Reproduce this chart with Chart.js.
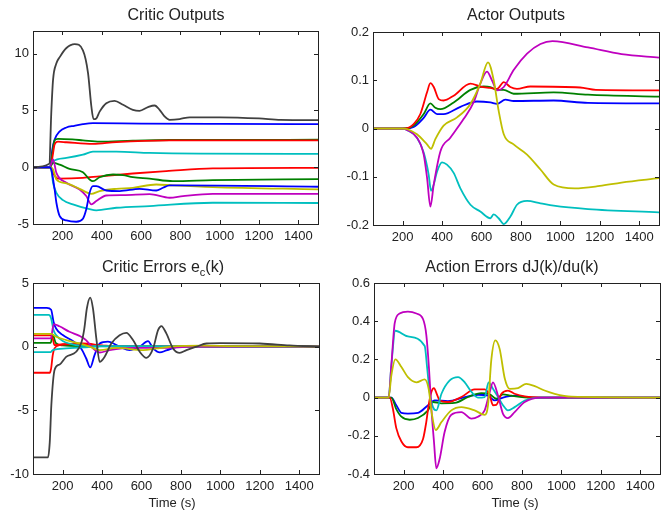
<!DOCTYPE html>
<html>
<head>
<meta charset="utf-8">
<script src="https://cdn.jsdelivr.net/npm/chart.js@4.4.1/dist/chart.umd.min.js"></script>
<style>
  body { margin: 0; width: 670px; height: 510px; background: #fff; position: relative; overflow: hidden;
         font-family: "Liberation Sans", Arial, sans-serif; color: #222; }
  canvas { position: absolute; }
  .ttl { position: absolute; font-size: 16px; line-height: 16px; text-align: center; white-space: nowrap; }
  .ttl sub { font-size: 11px; vertical-align: -4px; line-height: 0; }
  .xl { position: absolute; font-size: 13px; line-height: 13px; text-align: center; white-space: nowrap; }
</style>
</head>
<body>
<canvas id="c1" width="335" height="255" style="left:0;top:0"></canvas>
<canvas id="c2" width="335" height="255" style="left:335px;top:0"></canvas>
<canvas id="c3" width="335" height="255" style="left:0;top:255px"></canvas>
<canvas id="c4" width="335" height="255" style="left:335px;top:255px"></canvas>

<div class="ttl" style="left:76px;top:7px;width:200px">Critic Outputs</div>
<div class="ttl" style="left:416px;top:7px;width:200px">Actor Outputs</div>
<div class="ttl" style="left:63px;top:259px;width:200px">Critic Errors e<sub>c</sub>(k)</div>
<div class="ttl" style="left:412px;top:259px;width:200px">Action Errors dJ(k)/du(k)</div>
<div class="xl" style="left:122px;top:496px;width:100px">Time (s)</div>
<div class="xl" style="left:465px;top:496px;width:100px">Time (s)</div>

<script>
// colours (old matlab order)
const BLUE = "#0000ff", GREEN = "#008000", RED = "#ff0000", CYAN = "#00bfbf",
      MAGENTA = "#bf00bf", YELLOW = "#bfbf00", BLACK = "#404040";

const xTicks = [200, 400, 600, 800, 1000, 1200, 1400];

// Critic Outputs  [time, value]
const coYTicks = [-5, 0, 5, 10];
const coBlueHi = [[50,0],[135,0],[140,0.2],[148,1.55],[160,2.43],[186,3.16],[220,3.5],[260,3.65],[304,3.8],[355,3.89],[600,3.85],[1000,3.82],[1500,3.8]];
const coGreenHi = [[50,0],[138,0],[148,1.2],[160,2.37],[177,2.5],[250,2.45],[304,2.37],[389,2.25],[558,2.34],[745,2.4],[1500,2.42]];
const coRedHi = [[50,0],[140,0],[150,1.0],[160,2.0],[177,2.25],[220,2.2],[355,2.05],[474,2.22],[745,2.37],[1500,2.36]];
const coCyanHi = [[50,0],[135,0],[152,0.53],[220,0.82],[304,1.1],[355,1.37],[474,1.37],[643,1.26],[900,1.2],[1500,1.18]];
const coRedLo = [[50,0],[140,0],[155,-0.6],[177,-1.0],[304,-0.94],[389,-0.8],[558,-0.55],[728,-0.35],[965,-0.1],[1500,-0.05]];
const coGreenLo = [[50,0],[135,0],[152,0.38],[186,0.23],[236,-0.15],[304,-0.44],[338,-1.08],[355,-1.23],[389,-0.88],[457,-0.64],[508,-0.7],[558,-0.88],[643,-1.0],[762,-1.23],[965,-1.14],[1500,-1.05]];
const coCyanLo = [[50,0],[135,0],[143,-0.2],[152,-1.37],[169,-2.25],[203,-2.9],[253,-3.27],[338,-3.7],[372,-3.8],[474,-3.57],[643,-3.42],[965,-3.13],[1500,-3.15]];
const coMagenta = [[50,0],[135,0],[152,0.7],[169,-0.5],[220,-1.37],[287,-1.96],[321,-2.54],[347,-3.27],[372,-2.98],[423,-2.49],[508,-2.46],[643,-2.37],[745,-2.69],[813,-2.54],[965,-2.34],[1500,-2.35]];
const coYellow = [[50,0],[138,0],[152,-0.2],[169,-1.08],[220,-1.43],[287,-1.9],[347,-2.34],[389,-2.1],[474,-1.9],[558,-1.81],[677,-1.52],[762,-1.6],[965,-1.75],[1500,-1.95]];
const coBlueLo = [[50,0],[135,0],[143,-0.2],[160,-1.96],[169,-3.13],[186,-4.3],[220,-4.68],[270,-4.8],[304,-4.53],[321,-3.7],[338,-2.25],[355,-1.67],[372,-1.67],[423,-2.05],[491,-2.1],[592,-1.9],[677,-2.05],[711,-1.81],[745,-1.6],[800,-1.6],[1500,-1.72]];
const coBlack = [[50,0],[133,0.3],[143,4.8],[152,7.7],[169,9.15],[186,9.7],[220,10.5],[262,10.85],[304,10.3],[330,8.3],[347,5.35],[358,4.24],[372,4.3],[389,4.9],[423,5.64],[465,5.85],[508,5.5],[558,5.06],[592,4.97],[635,5.3],[669,5.44],[694,5.06],[720,4.47],[745,4.18],[796,4.24],[847,4.4],[1000,4.4],[1200,4.3],[1310,4.17],[1500,4.15]];

// Actor Outputs
const aoYTicks = [-0.2, -0.1, 0, 0.1, 0.2];
const aoBlue = [[50,0],[214,0],[256,0.003],[307,0.022],[341,0.039],[375,0.03],[408,0.03],[493,0.045],[577,0.056],[645,0.054],[679,0.051],[721,0.06],[763,0.057],[966,0.058],[1140,0.053],[1500,0.052]];
const aoGreen = [[50,0],[214,0],[256,0.006],[307,0.03],[341,0.052],[366,0.043],[392,0.04],[459,0.054],[544,0.08],[611,0.087],[645,0.086],[679,0.08],[713,0.08],[763,0.072],[966,0.075],[1140,0.07],[1500,0.066]];
const aoRed = [[50,0],[214,0],[256,0.009],[290,0.03],[324,0.075],[341,0.094],[358,0.086],[383,0.061],[408,0.058],[459,0.068],[544,0.093],[594,0.087],[645,0.084],[679,0.082],[713,0.096],[746,0.086],[780,0.082],[848,0.087],[1100,0.085],[1180,0.08],[1500,0.079]];
const aoCyan = [[50,0],[200,0],[222,-0.003],[273,-0.019],[307,-0.05],[332,-0.095],[344,-0.129],[358,-0.116],[375,-0.089],[400,-0.07],[425,-0.075],[459,-0.092],[493,-0.124],[544,-0.158],[594,-0.172],[645,-0.186],[662,-0.178],[687,-0.186],[713,-0.198],[746,-0.183],[780,-0.158],[831,-0.15],[899,-0.155],[966,-0.16],[1140,-0.167],[1500,-0.174]];
const aoMagenta = [[50,0],[200,0],[222,-0.003],[273,-0.019],[307,-0.054],[324,-0.102],[341,-0.162],[358,-0.116],[392,-0.047],[442,-0.019],[510,0.02],[560,0.054],[594,0.093],[628,0.118],[653,0.1],[679,0.079],[713,0.086],[763,0.121],[831,0.155],[899,0.175],[960,0.181],[1140,0.168],[1310,0.154],[1500,0.147]];
const aoYellow = [[50,0],[200,0],[222,-0.001],[273,-0.012],[324,-0.033],[344,-0.042],[366,-0.022],[408,0.006],[476,0.023],[544,0.051],[594,0.093],[633,0.137],[662,0.1],[687,0.037],[713,-0.012],[763,-0.033],[831,-0.054],[899,-0.085],[966,-0.116],[1073,-0.124],[1200,-0.119],[1310,-0.112],[1500,-0.103]];

// Critic Errors e_c(k)
const ceYTicks = [-10, -5, 0, 5];
const ceBlue = [[50,3.05],[120,3.05],[142,2.9],[154,1.96],[167,1.43],[201,0.91],[252,0.44],[294,-0.14],[320,-0.93],[340,-1.63],[362,-0.66],[388,0.25],[430,0.39],[489,0],[540,-0.27],[591,0],[633,0.44],[659,-0.14],[693,-0.45],[726,-0.3],[800,0.05],[1500,0]];
const ceGreen = [[50,0.3],[140,0.3],[150,0.95],[165,0.3],[200,0.1],[300,0.05],[1500,0]];
const ceRedHi = [[50,0.88],[140,0.88],[150,0.65],[159,0.12],[200,0.2],[300,0.2],[400,0.05],[1500,0]];
const ceRedLo = [[50,-2.05],[135,-2.05],[142,-1.7],[150,-0.66],[159,-0.14],[184,0.12],[303,0.25],[400,0.1],[500,0],[1500,0]];
const ceCyanHi = [[50,2.5],[130,2.5],[142,2.22],[154,1.3],[167,0.91],[201,0.44],[269,0.12],[350,0.05],[1500,0]];
const ceCyanLo = [[50,-0.43],[140,-0.43],[150,-0.27],[218,-0.14],[303,-0.06],[400,0.02],[1500,0]];
const ceMagenta = [[50,0.65],[140,0.65],[155,1.77],[184,1.6],[235,1.17],[286,0.85],[320,0.5],[354,-0.14],[388,-0.46],[438,-0.27],[557,-0.09],[726,-0.09],[850,0],[1500,0]];
const ceYellow = [[50,1.0],[142,1.0],[167,0.78],[218,0.52],[286,0.25],[337,0],[388,-0.27],[472,-0.1],[608,-0.27],[676,-0.14],[750,0],[900,0.08],[1050,0.05],[1500,0]];
const ceBlack = [[50,-8.7],[126,-8.7],[135,-7.5],[143,-4.6],[160,-1.8],[185,-1.4],[218,-0.8],[269,-0.4],[295,0.3],[310,1.4],[323,3.0],[340,3.85],[354,3.0],[371,0.65],[388,-1.19],[413,-0.8],[447,0.25],[489,0.9],[523,1.09],[557,0.52],[591,-0.4],[625,-0.88],[659,-0.14],[684,1.3],[701,1.62],[726,1.04],[760,-0.14],[794,-0.49],[828,-0.27],[879,0],[930,0.25],[1000,0.28],[1200,0.25],[1350,0.1],[1500,0]];

// Action Errors dJ(k)/du(k)
const aeYTicks = [-0.4, -0.2, 0, 0.2, 0.4, 0.6];
const aeBlue = [[50,0],[138,0],[163,-0.04],[189,-0.08],[222,-0.084],[273,-0.08],[324,-0.04],[358,-0.015],[425,-0.018],[510,0.003],[577,0.015],[628,0.01],[662,-0.015],[704,0],[763,0.01],[850,0],[1500,0]];
const aeGreen = [[50,0],[138,0],[163,-0.06],[189,-0.1],[231,-0.116],[273,-0.107],[324,-0.067],[349,-0.023],[392,-0.03],[459,-0.028],[527,0.003],[594,0.023],[637,0.017],[670,-0.006],[704,0.017],[746,0.01],[850,0],[1500,0]];
const aeRed = [[50,0],[130,0],[146,-0.06],[163,-0.16],[189,-0.23],[222,-0.26],[265,-0.26],[299,-0.215],[315,-0.128],[327,-0.04],[341,0.03],[354,0.05],[368,0.02],[383,-0.015],[425,-0.023],[493,0.003],[560,0.043],[611,0.043],[637,0.01],[653,-0.04],[670,-0.038],[696,0.02],[729,0.037],[763,0.02],[814,0.006],[900,0],[1500,0]];
const aeCyan = [[50,0],[124,0],[138,0.17],[158,0.35],[222,0.32],[307,0.27],[320,0.15],[332,0.03],[349,-0.05],[366,-0.067],[392,0.02],[434,0.09],[476,0.107],[510,0.08],[544,0.03],[577,0],[611,0.003],[631,0.08],[653,0.046],[679,0.003],[704,-0.04],[729,-0.067],[763,-0.05],[814,-0.015],[900,0],[1500,0]];
const aeMagenta = [[50,0],[124,0],[138,0.17],[155,0.39],[180,0.44],[222,0.45],[265,0.44],[299,0.41],[315,0.33],[329,0.15],[341,-0.06],[354,-0.23],[366,-0.37],[383,-0.32],[408,-0.18],[442,-0.09],[493,-0.076],[544,-0.11],[577,-0.1],[611,-0.067],[637,0.03],[653,0.08],[679,0.01],[704,-0.085],[729,-0.107],[763,-0.076],[814,-0.023],[899,0],[1500,0]];
const aeYellow = [[50,0],[124,0],[138,0.116],[158,0.2],[189,0.16],[222,0.107],[265,0.08],[307,0.095],[327,0.046],[344,-0.09],[363,-0.17],[392,-0.128],[442,-0.067],[493,-0.05],[560,-0.067],[611,-0.09],[628,-0.04],[645,0.2],[665,0.3],[687,0.255],[713,0.1],[738,0.046],[780,0.05],[822,0.072],[865,0.06],[915,0.037],[966,0.02],[1050,0.005],[1500,0]];

// box + inward ticks on all four sides, like matlab axes
const boxPlugin = {
  id: "box",
  afterDraw(chart) {
    const { ctx, chartArea: a, scales } = chart;
    ctx.save();
    ctx.strokeStyle = "#222";
    ctx.lineWidth = 1;
    ctx.strokeRect(Math.round(a.left) + 0.5, Math.round(a.top) + 0.5,
                   Math.round(a.right - a.left), Math.round(a.bottom - a.top));
    ctx.beginPath();
    scales.x.ticks.forEach(t => {
      const px = Math.round(scales.x.getPixelForValue(t.value)) + 0.5;
      ctx.moveTo(px, a.bottom); ctx.lineTo(px, a.bottom - 4);
      ctx.moveTo(px, a.top); ctx.lineTo(px, a.top + 4);
    });
    scales.y.ticks.forEach(t => {
      const py = Math.round(scales.y.getPixelForValue(t.value)) + 0.5;
      ctx.moveTo(a.left, py); ctx.lineTo(a.left + 4, py);
      ctx.moveTo(a.right, py); ctx.lineTo(a.right - 4, py);
    });
    ctx.stroke();
    ctx.restore();
  }
};

function makePanel(id, series, yMin, yMax, yTicks, area) {
  const W = 335, H = 255;
  return new Chart(document.getElementById(id), {
    type: "line",
    data: {
      datasets: series.map(s => ({
        data: s[0].map(p => ({ x: p[0], y: p[1] })),
        borderColor: s[1],
        borderWidth: 1.8,
        pointRadius: 0,
        fill: false,
        cubicInterpolationMode: "monotone"
      })).reverse()
    },
    options: {
      responsive: false,
      animation: false,
      events: [],
      layout: { padding: { top: area.top, right: W - area.right, left: 0, bottom: 0 } },
      plugins: { legend: { display: false }, tooltip: { enabled: false } },
      scales: {
        x: {
          type: "linear", min: 50, max: 1500,
          grid: { display: false, drawTicks: false },
          border: { display: false },
          afterBuildTicks: s => { s.ticks = xTicks.map(v => ({ value: v })); },
          afterFit: s => { s.height = H - area.bottom; },
          ticks: { color: "#222", padding: 5, maxRotation: 0, autoSkip: false,
                   font: { family: "'Liberation Sans', Arial, sans-serif", size: 13 },
                   callback: v => String(v) }
        },
        y: {
          type: "linear", min: yMin, max: yMax,
          grid: { display: false, drawTicks: false },
          border: { display: false },
          afterBuildTicks: s => { s.ticks = yTicks.map(v => ({ value: v })); },
          afterFit: s => { s.width = area.left; },
          ticks: { color: "#222", padding: 4, autoSkip: false,
                   font: { family: "'Liberation Sans', Arial, sans-serif", size: 13 },
                   callback: v => String(v) }
        }
      }
    },
    plugins: [boxPlugin]
  });
}

makePanel("c1", [
  [coBlueHi, BLUE], [coGreenHi, GREEN], [coRedHi, RED], [coCyanHi, CYAN],
  [coRedLo, RED], [coGreenLo, GREEN], [coCyanLo, CYAN], [coMagenta, MAGENTA],
  [coYellow, YELLOW], [coBlueLo, BLUE], [coBlack, BLACK]
], -5, 12, coYTicks, { left: 33, top: 31, right: 318, bottom: 224 });

makePanel("c2", [
  [aoBlue, BLUE], [aoGreen, GREEN], [aoRed, RED], [aoCyan, CYAN],
  [aoMagenta, MAGENTA], [aoYellow, YELLOW]
], -0.2, 0.2, aoYTicks, { left: 38, top: 32, right: 324, bottom: 225 });

makePanel("c3", [
  [ceBlue, BLUE], [ceGreen, GREEN], [ceRedHi, RED], [ceRedLo, RED], [ceCyanHi, CYAN],
  [ceCyanLo, CYAN], [ceMagenta, MAGENTA], [ceYellow, YELLOW], [ceBlack, BLACK]
], -10, 5, ceYTicks, { left: 33, top: 28, right: 319, bottom: 219 });

makePanel("c4", [
  [aeBlue, BLUE], [aeGreen, GREEN], [aeRed, RED], [aeCyan, CYAN],
  [aeMagenta, MAGENTA], [aeYellow, YELLOW]
], -0.4, 0.6, aeYTicks, { left: 39, top: 28, right: 325, bottom: 219 });
</script>
</body>
</html>
